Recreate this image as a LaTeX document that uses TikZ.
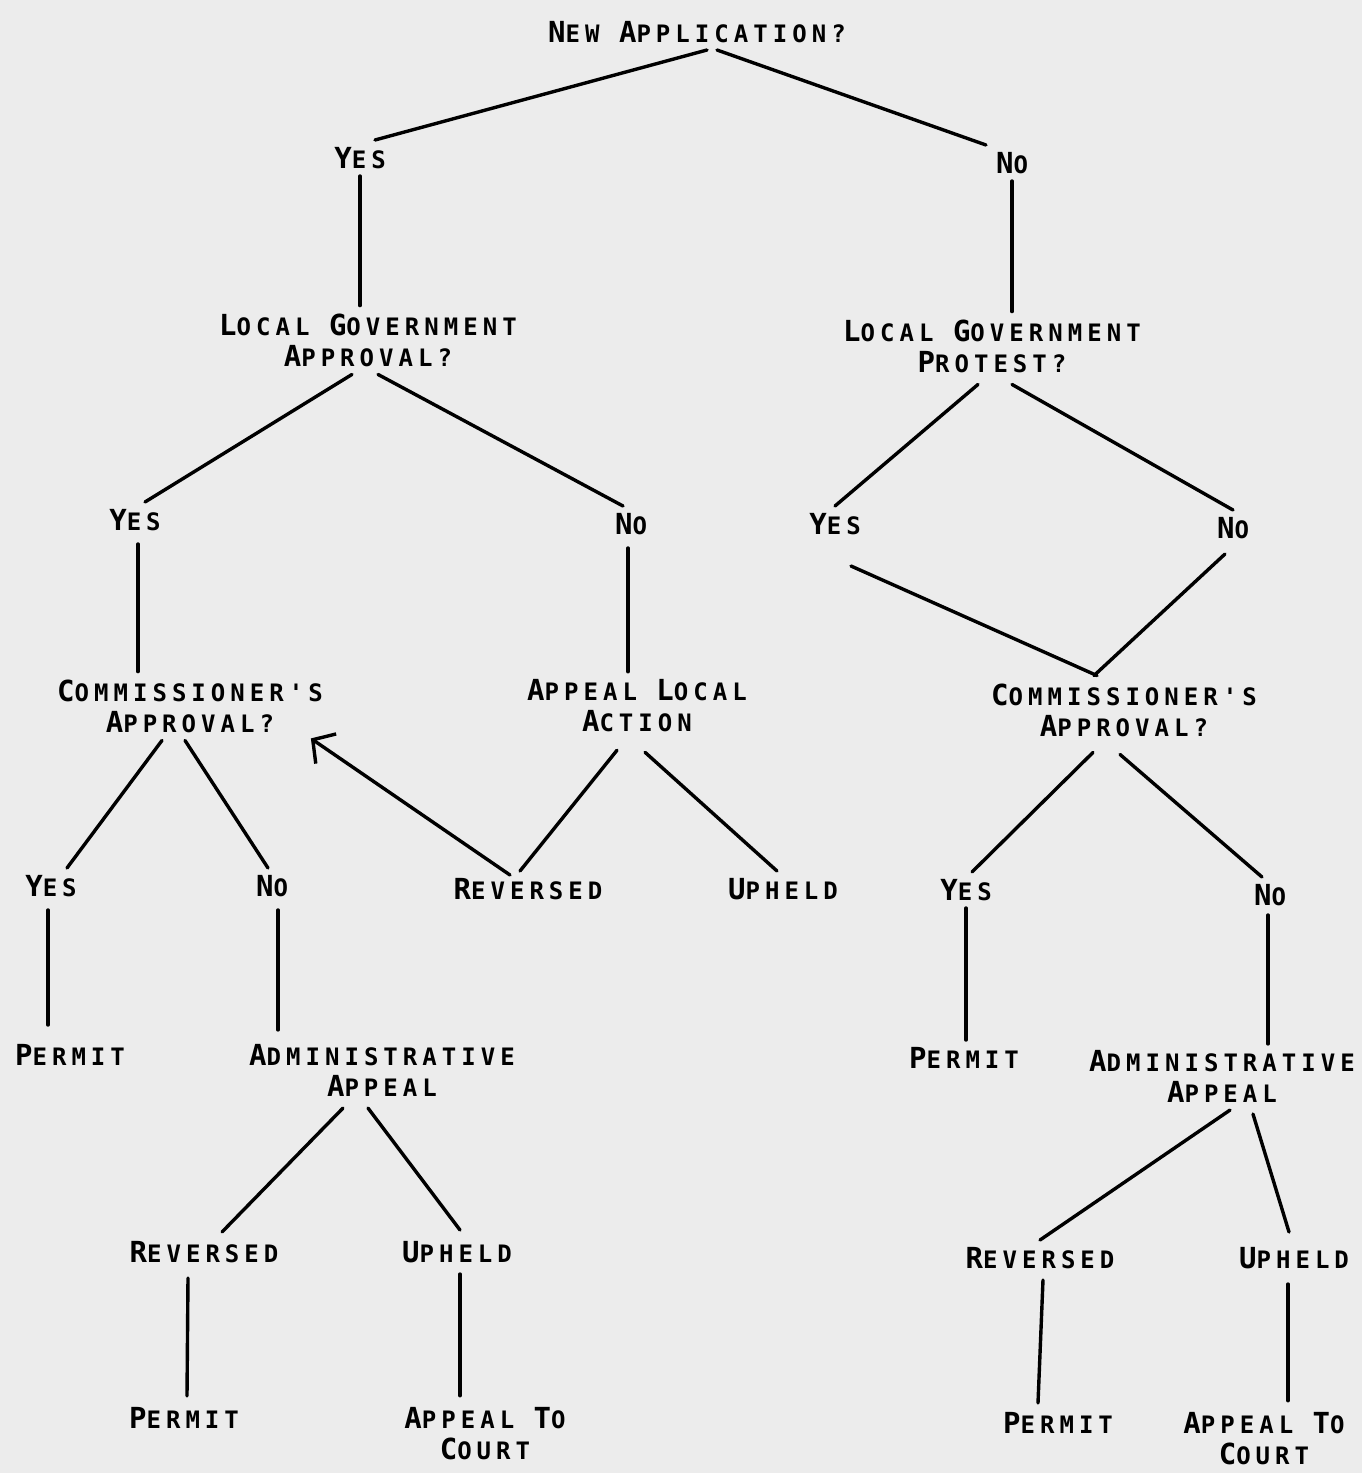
\documentclass[tikz,border=0pt]{standalone}
\usepackage{fontspec}
\usetikzlibrary{arrows.meta}
\newfontfamily\labfont[LetterSpace=21]{DejaVu Sans Mono Bold}
\newcommand\Cap[1]{{\fontsize{14.5}{15.5}\selectfont #1}}
\definecolor{paper}{RGB}{236,236,236}
\tikzset{
  lab/.style={inner sep=0pt, outer sep=4pt, text height=10pt, text depth=0pt,
    font=\labfont\fontsize{12}{15.5}\selectfont},
  lab2/.style={inner sep=0pt, outer sep=4pt, align=center,
    font=\labfont\fontsize{12}{15.5}\selectfont},
  edge/.style={line width=1.7pt, line cap=round},
}
\begin{document}
\begin{tikzpicture}[x=0.5pt,y=-0.5pt]
\fill[paper] (0,0) rectangle (1362,1473);
\useasboundingbox (0,0) rectangle (1362,1473);
% nodes
\node[lab] (na) at (697,32) {\Cap{N}EW \Cap{A}PPLICATION?};
\node[lab] (y1) at (360,158) {\Cap{Y}ES};
\node[lab] (n1) at (1012,163) {\Cap{N}O};
\node[lab2] (lga) at (368,340) {\Cap{L}OCAL \Cap{G}OVERNMENT\\\Cap{A}PPROVAL?};
\node[lab2] (lgp) at (992,346) {\Cap{L}OCAL \Cap{G}OVERNMENT\\\Cap{P}ROTEST?};
\node[lab] (y2) at (135,520) {\Cap{Y}ES};
\node[lab] (n2) at (631,524) {\Cap{N}O};
\node[lab] (y3) at (835,524) {\Cap{Y}ES};
\node[lab] (n3) at (1233,528) {\Cap{N}O};
\node[lab2] (ca1) at (190,706) {\Cap{C}OMMISSIONER'S\\\Cap{A}PPROVAL?};
\node[lab2] (ala) at (637,706) {\Cap{A}PPEAL \Cap{L}OCAL\\\Cap{A}CTION};
\node[lab2] (ca2) at (1124,710) {\Cap{C}OMMISSIONER'S\\\Cap{A}PPROVAL?};
\node[lab] (y4) at (51,886) {\Cap{Y}ES};
\node[lab] (n4) at (272,886) {\Cap{N}O};
\node[lab] (rev1) at (528,889) {\Cap{R}EVERSED};
\node[lab] (uph1) at (783,889) {\Cap{U}PHELD};
\node[lab] (y5) at (966,890) {\Cap{Y}ES};
\node[lab] (n5) at (1270,895) {\Cap{N}O};
\node[lab] (per1) at (70,1055) {\Cap{P}ERMIT};
\node[lab2] (aa1) at (382,1070) {\Cap{A}DMINISTRATIVE\\\Cap{A}PPEAL};
\node[lab] (per2) at (964,1058) {\Cap{P}ERMIT};
\node[lab2] (aa2) at (1222,1076) {\Cap{A}DMINISTRATIVE\\\Cap{A}PPEAL};
\node[lab] (rev2) at (204,1252) {\Cap{R}EVERSED};
\node[lab] (uph2) at (457,1252) {\Cap{U}PHELD};
\node[lab] (rev3) at (1040,1258) {\Cap{R}EVERSED};
\node[lab] (uph3) at (1294,1258) {\Cap{U}PHELD};
\node[lab] (per3) at (184,1418) {\Cap{P}ERMIT};
\node[lab2] (atc1) at (485,1434) {\Cap{A}PPEAL \Cap{T}O\\\Cap{C}OURT};
\node[lab] (per4) at (1058,1423) {\Cap{P}ERMIT};
\node[lab2] (atc2) at (1264,1439) {\Cap{A}PPEAL \Cap{T}O\\\Cap{C}OURT};
% connectors
\draw[edge] ([xshift=5pt]na.south) -- ([xshift=7.5pt]y1.north);
\draw[edge] ([xshift=10pt]na.south) -- ([xshift=-13pt]n1.north);
\draw[edge] (y1.south) -- ([xshift=-4pt]lga.north);
\draw[edge] (n1.south) -- ([xshift=10pt]lgp.north);
\draw[edge] ([xshift=-8pt]lga.south) -- ([xshift=5pt]y2.north);
\draw[edge] ([xshift=5pt]lga.south) -- ([xshift=-4pt]n2.north);
\draw[edge] ([xshift=-7pt,yshift=-2pt]lgp.south) -- (y3.north);
\draw[edge] ([xshift=10pt,yshift=-2pt]lgp.south) -- (n3.north);
\draw[edge] ([xshift=1.5pt,yshift=-3pt]y2.south) -- ([xshift=-26pt]ca1.north);
\draw[edge] ([xshift=-1.5pt,yshift=-3pt]n2.south) -- ([xshift=-4.5pt]ala.north);
\draw[edge] ([xshift=8pt,yshift=-12pt]y3.south) -- ([xshift=-13.5pt]ca2.north);
\draw[edge] ([xshift=-4pt,yshift=-4pt]n3.south) -- ([xshift=-15pt]ca2.north);
\draw[edge] ([xshift=-14pt]ca1.south) -- ([xshift=8pt]y4.north);
\draw[edge] ([xshift=-2.5pt]ca1.south) -- ([xshift=-2pt]n4.north);
\draw[edge] ([xshift=-10pt,yshift=-5pt]ala.south) -- ([xshift=-4pt]rev1.north);
\draw[edge] ([xshift=4pt,yshift=-6pt]ala.south) -- ([xshift=-3pt]uph1.north);
\draw[edge, -{Straight Barb[length=8pt,width=18pt,line width=1.7pt]}] ([xshift=-9pt,yshift=-2pt]rev1.north) -- ([xshift=-10pt,yshift=1pt]ca1.south east);
\draw[edge] ([xshift=-15.5pt,yshift=-4pt]ca2.south) -- ([xshift=3pt]y5.north);
\draw[edge] ([xshift=-2pt,yshift=-5pt]ca2.south) -- ([xshift=-4pt]n5.north);
\draw[edge] ([xshift=-1.5pt,yshift=-3pt]y4.south) -- ([xshift=-11pt,yshift=6pt]per1.north);
\draw[edge] ([xshift=3pt,yshift=-3pt]n4.south) -- ([xshift=-52pt,yshift=3pt]aa1.north);
\draw[edge] (y5.south) -- ([xshift=1pt]per2.north);
\draw[edge] ([xshift=-1pt,yshift=-1pt]n5.south) -- ([xshift=23pt,yshift=-1pt]aa2.north);
\draw[edge] ([xshift=-19.5pt,yshift=-2pt]aa1.south) -- ([xshift=9pt,yshift=1pt]rev2.north);
\draw[edge] ([xshift=-7pt,yshift=-2pt]aa1.south) -- ([xshift=1.5pt,yshift=2pt]uph2.north);
\draw[edge] ([xshift=4pt]aa2.south) -- (rev3.north);
\draw[edge] ([xshift=15.5pt,yshift=-2pt]aa2.south) -- ([xshift=-2.5pt,yshift=4pt]uph3.north);
\draw[edge] ([xshift=-8pt,yshift=-4pt]rev2.south) -- ([xshift=1.5pt,yshift=2pt]per3.north);
\draw[edge] ([xshift=1.5pt,yshift=-2pt]uph2.south) -- ([xshift=-12.5pt,yshift=2pt]atc1.north);
\draw[edge] ([xshift=1.5pt,yshift=-2pt]rev3.south) -- ([xshift=-10pt,yshift=1pt]per4.north);
\draw[edge] ([xshift=-3pt,yshift=-4pt]uph3.south) -- ([xshift=12pt,yshift=2pt]atc2.north);
\end{tikzpicture}
\end{document}
